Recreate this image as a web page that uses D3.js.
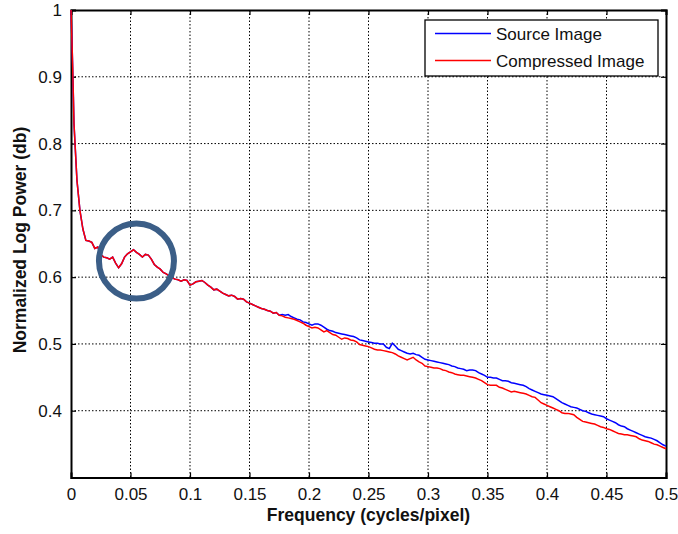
<meta charset="utf-8">
<script src="https://d3js.org/d3.v7.min.js"></script>
<body style="margin:0;background:#fff">
<div id="chart"></div>
<script>

// frequency samples: a few extra points on the steep head, then every 0.0025
var headFreq = [0, 0.0007, 0.0014, 0.002]
var freqStep = 0.0025
var bodyFreq = d3.range(1, 201).map(function(k){ return +(k * freqStep).toFixed(4) })
var freq = headFreq.concat(bodyFreq)

// both curves overlap up to ~0.175
var sharedHead = [1.000, 0.960, 0.915, 0.870,
  0.830, 0.745, 0.700, 0.672, 0.655, 0.654, 0.652, 0.643, 0.645, 0.634,
  0.630, 0.629, 0.627, 0.630, 0.621, 0.614, 0.620, 0.630, 0.635, 0.638,
  0.641, 0.637, 0.634, 0.630, 0.634, 0.633, 0.627, 0.619, 0.615, 0.612,
  0.607, 0.605, 0.602, 0.599, 0.597, 0.596, 0.594, 0.596, 0.595, 0.588,
  0.590, 0.593, 0.594, 0.595, 0.592, 0.588, 0.585, 0.581, 0.582, 0.579,
  0.576, 0.574, 0.572, 0.573, 0.571, 0.567, 0.568, 0.567, 0.563, 0.561,
  0.559, 0.557, 0.555, 0.553, 0.552, 0.550, 0.549, 0.546, 0.547, 0.543]

var sourceTail = [0.544, 0.543, 0.544, 0.541, 0.539, 0.537, 0.536, 0.533, 0.532, 0.530,
  0.528, 0.530, 0.530, 0.528, 0.525, 0.522, 0.520, 0.519, 0.517, 0.516,
  0.515, 0.514, 0.513, 0.512, 0.511, 0.509, 0.506, 0.505, 0.504, 0.503,
  0.502, 0.501, 0.501, 0.500, 0.500, 0.495, 0.493, 0.501, 0.497, 0.492,
  0.490, 0.488, 0.486, 0.485, 0.486, 0.484, 0.483, 0.480, 0.477, 0.476,
  0.475, 0.474, 0.473, 0.472, 0.471, 0.470, 0.469, 0.467, 0.466, 0.464,
  0.463, 0.462, 0.460, 0.461, 0.461, 0.460, 0.457, 0.455, 0.453, 0.450,
  0.450, 0.449, 0.449, 0.447, 0.445, 0.445, 0.444, 0.442, 0.441, 0.440,
  0.439, 0.438, 0.436, 0.433, 0.431, 0.429, 0.427, 0.425, 0.424, 0.423,
  0.422, 0.421, 0.418, 0.415, 0.412, 0.410, 0.408, 0.406, 0.405, 0.404,
  0.402, 0.400, 0.399, 0.397, 0.395, 0.394, 0.393, 0.392, 0.391, 0.388,
  0.386, 0.384, 0.382, 0.379, 0.377, 0.376, 0.373, 0.371, 0.369, 0.367,
  0.365, 0.363, 0.361, 0.360, 0.359, 0.357, 0.355, 0.352, 0.349, 0.347]

var compressedTail = [0.542, 0.540, 0.539, 0.538, 0.537, 0.535, 0.533, 0.531, 0.528, 0.526,
  0.524, 0.525, 0.524, 0.521, 0.518, 0.520, 0.517, 0.514, 0.513, 0.510,
  0.507, 0.509, 0.508, 0.506, 0.505, 0.503, 0.499, 0.498, 0.497, 0.496,
  0.494, 0.492, 0.491, 0.491, 0.490, 0.489, 0.488, 0.487, 0.485, 0.482,
  0.480, 0.478, 0.476, 0.478, 0.480, 0.476, 0.473, 0.471, 0.467, 0.466,
  0.465, 0.464, 0.464, 0.463, 0.461, 0.460, 0.458, 0.457, 0.455, 0.454,
  0.453, 0.453, 0.452, 0.451, 0.450, 0.449, 0.447, 0.445, 0.442, 0.439,
  0.438, 0.438, 0.438, 0.435, 0.434, 0.432, 0.430, 0.428, 0.429, 0.428,
  0.427, 0.426, 0.425, 0.423, 0.421, 0.420, 0.416, 0.412, 0.410, 0.408,
  0.406, 0.404, 0.402, 0.400, 0.397, 0.396, 0.396, 0.395, 0.394, 0.390,
  0.387, 0.384, 0.383, 0.382, 0.381, 0.380, 0.378, 0.376, 0.375, 0.373,
  0.372, 0.370, 0.368, 0.366, 0.365, 0.364, 0.364, 0.363, 0.362, 0.361,
  0.358, 0.356, 0.355, 0.354, 0.352, 0.350, 0.349, 0.347, 0.345, 0.343]

var sourceVals = sharedHead.concat(sourceTail)
var compressedVals = sharedHead.concat(compressedTail)

var xTicks = [0, 0.05, 0.1, 0.15, 0.2, 0.25, 0.3, 0.35, 0.4, 0.45, 0.5]
var yTicks = [0.4, 0.5, 0.6, 0.7, 0.8, 0.9, 1]
var seriesNames = ["Source Image", "Compressed Image"]
var seriesColors = ["#0000ff", "#ff0000"]

// highlighted region (data units)
var markFreq = 0.055, markVal = 0.624

var width = 678, height = 534
var plotLeft = 71, plotRight = 666, plotTop = 10, plotBottom = 477.5

var svg = d3.select("#chart").append("svg")
  .attr("width", width)
  .attr("height", height)
  .style("font-family", "Arial, 'Liberation Sans', sans-serif")

var x = d3.scaleLinear().domain([0, 0.5]).range([plotLeft, plotRight])
var y = d3.scaleLinear().domain([0.3, 1]).range([plotBottom, plotTop])

// grid
svg.append("g").selectAll("line")
  .data(xTicks.slice(1, -1))
  .enter().append("line")
    .attr("x1", function(d){ return x(d) }).attr("x2", function(d){ return x(d) })
    .attr("y1", plotTop).attr("y2", plotBottom)
    .attr("stroke", "#000").attr("stroke-width", 1).attr("stroke-dasharray", "1.5,2")
svg.append("g").selectAll("line")
  .data(yTicks.slice(0, -1))
  .enter().append("line")
    .attr("x1", plotLeft).attr("x2", plotRight)
    .attr("y1", function(d){ return y(d) }).attr("y2", function(d){ return y(d) })
    .attr("stroke", "#000").attr("stroke-width", 1).attr("stroke-dasharray", "1.5,2")

// axes with inward ticks
var fmt = function(d){ return String(d) }
svg.append("g").attr("transform", "translate(0," + plotBottom + ")")
  .call(d3.axisBottom(x).tickValues(xTicks).tickSize(-5).tickPadding(10).tickFormat(fmt))
svg.append("g").attr("transform", "translate(0," + plotTop + ")")
  .call(d3.axisTop(x).tickValues(xTicks).tickSize(-5).tickFormat(""))
svg.append("g").attr("transform", "translate(" + plotLeft + ",0)")
  .call(d3.axisLeft(y).tickValues(yTicks).tickSize(-5).tickPadding(9).tickFormat(fmt))
svg.append("g").attr("transform", "translate(" + plotRight + ",0)")
  .call(d3.axisRight(y).tickValues(yTicks).tickSize(-5).tickFormat(""))

svg.selectAll(".domain").attr("stroke", "#000").attr("stroke-width", 2)
svg.selectAll(".tick line").attr("stroke", "#000").attr("stroke-width", 1.2)
svg.selectAll(".tick text").attr("font-size", 17).attr("fill", "#111")
  .style("font-family", "Arial, 'Liberation Sans', sans-serif")

// curves
var line = d3.line()
  .x(function(d, i){ return x(freq[i]) })
  .y(function(d){ return y(d) })

svg.append("path").datum(sourceVals)
  .attr("fill", "none").attr("stroke", seriesColors[0]).attr("stroke-width", 1.5)
  .attr("d", line)
svg.append("path").datum(compressedVals)
  .attr("fill", "none").attr("stroke", seriesColors[1]).attr("stroke-width", 1.5)
  .attr("d", line)

// highlight circle
svg.append("circle")
  .attr("cx", x(markFreq)).attr("cy", y(markVal))
  .attr("r", 37.5)
  .attr("fill", "none").attr("stroke", "#3b5e87").attr("stroke-width", 6)

// axis titles
svg.append("text")
  .attr("x", (plotLeft + plotRight) / 2).attr("y", 521)
  .attr("text-anchor", "middle").attr("font-size", 17.5).attr("font-weight", "bold")
  .attr("fill", "#111")
  .text("Frequency (cycles/pixel)")
svg.append("text")
  .attr("transform", "translate(26," + 240 + ") rotate(-90)")
  .attr("text-anchor", "middle").attr("font-size", 17.5).attr("font-weight", "bold")
  .attr("fill", "#111")
  .text("Normalized Log Power (db)")

// legend
var legend = svg.append("g").attr("transform", "translate(425,20)")
legend.append("rect")
  .attr("width", 233).attr("height", 56)
  .attr("fill", "#fff").attr("stroke", "#000").attr("stroke-width", 1.3)
var item = legend.selectAll(".item")
  .data(seriesNames)
  .enter().append("g")
    .attr("transform", function(d, i){ return "translate(0," + (13.5 + i * 27) + ")" })
item.append("line")
  .attr("x1", 10).attr("x2", 66)
  .attr("stroke", function(d, i){ return seriesColors[i] }).attr("stroke-width", 1.3)
item.append("text")
  .attr("x", 71).attr("y", 6)
  .attr("font-size", 17).attr("fill", "#111")
  .text(function(d){ return d })

</script>
</body>
